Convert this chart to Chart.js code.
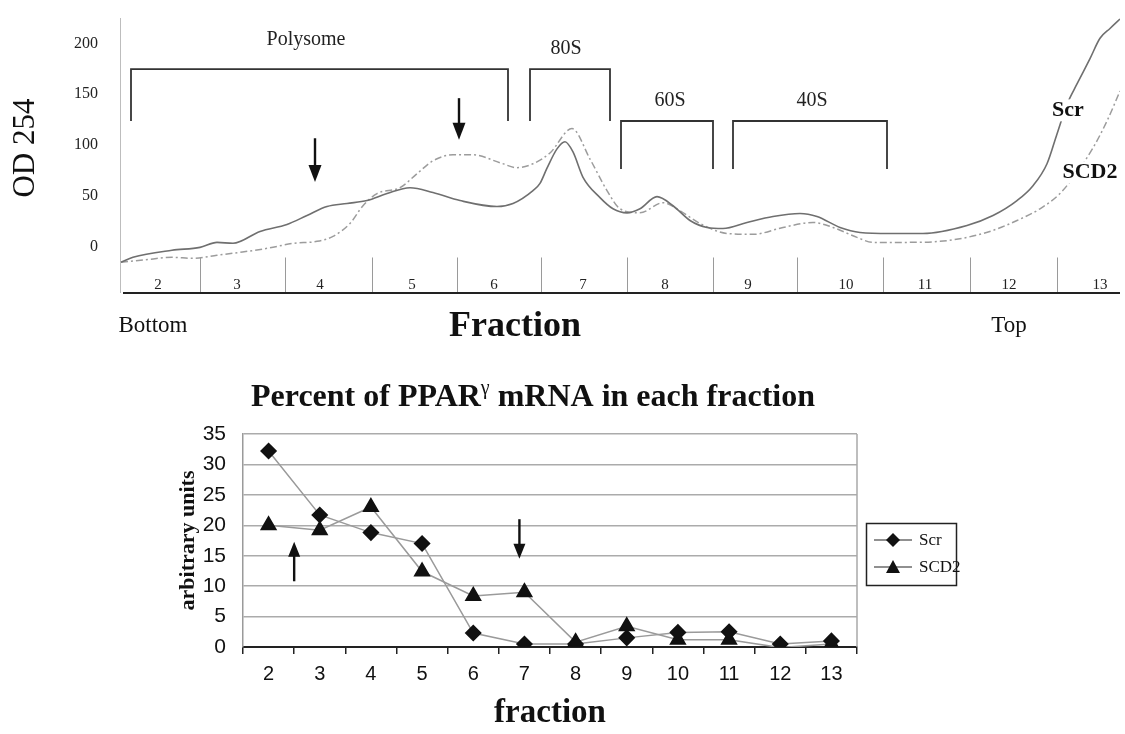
<!DOCTYPE html>
<html>
<head>
<meta charset="utf-8">
<script src="https://cdn.jsdelivr.net/npm/chart.js@4.4.1/dist/chart.umd.min.js"></script>
<style>
  html, body { margin: 0; padding: 0; background: #fff; }
  #wrap { position: relative; width: 1125px; height: 734px; }
  #topBox { position: absolute; left: 0; top: 0; width: 1125px; height: 345px; }
  #botBox { position: absolute; left: 0; top: 345px; width: 1125px; height: 389px; }
</style>
</head>
<body>
<div id="wrap">
  <div id="topBox"><canvas id="profileChart"></canvas></div>
  <div id="botBox"><canvas id="pctChart"></canvas></div>
</div>
<script>
// ---- profil de polysomes (OD 254 le long du gradient, 0 = fond, 100 = haut)
const scrDepth = [0.1, 1.3, 5.2, 8.0, 9.7, 11.3, 14.0, 16.7, 18.7, 20.7, 22.7, 24.7, 26.7, 29.0, 31.3, 34.0, 37.7, 39.3, 41.3, 42.0, 42.7, 43.7, 44.5, 45.3, 46.3, 48.0, 49.3, 50.7, 52.0, 53.7, 55.3, 57.0, 58.7, 60.3, 62.7, 65.3, 68.0, 69.7, 72.0, 74.0, 77.0, 80.3, 84.7, 87.3, 89.7, 91.3, 92.7, 93.7, 94.7, 95.7, 97.0, 98.0, 99.0, 100];
const scrOD = [-15.7, -10.8, -3.9, -1, 3.9, 3, 14.7, 21.6, 30.4, 39.2, 42.2, 45.1, 52, 57.8, 53, 45.1, 39.2, 42.2, 54.9, 62, 77, 96, 103, 93, 68, 48, 37, 33, 37, 49, 40, 25.5, 18.6, 17.6, 23.5, 29.4, 32.4, 29.4, 18.6, 13.7, 12.7, 12.7, 20.6, 30.4, 45.1, 59.8, 81.4, 110.8, 140, 160, 185, 205, 214.7, 224];
const scd2Depth = [0.1, 3.0, 5.2, 7.3, 9.7, 12.0, 14.7, 17.3, 19.7, 21.3, 23.0, 24.3, 25.7, 28.0, 29.7, 31.3, 33.3, 35.3, 38.0, 39.7, 41.3, 43.0, 45.2, 47.0, 48.7, 50.0, 52.0, 54.3, 56.0, 58.0, 60.7, 63.3, 66.3, 69.3, 71.3, 73.7, 75.3, 78.7, 82.0, 84.7, 87.3, 89.7, 92.0, 94.0, 95.3, 97.3, 98.7, 100];
const scd2OD = [-15.7, -12.7, -10.8, -11.8, -8.8, -5.9, -2, 2.9, 4.9, 9.8, 22.5, 40, 52, 57.8, 71.6, 84.3, 90.2, 90.2, 82.4, 77.5, 81.4, 92, 116, 86, 55, 37, 33, 43, 35, 22.5, 12.7, 11.8, 18.6, 23.5, 18.6, 8.8, 3.9, 3.9, 4.9, 8.8, 15.7, 25.5, 37, 52, 67.6, 97, 123.5, 153];
const odTicks = [0, 50, 100, 150, 200];

// séparations des fractions et numéros (positions dans le gradient)
const dividerPos = [8, 16.5, 25.2, 33.7, 42.1, 50.7, 59.3, 67.7, 76.3, 85, 93.7];
const fractionNames = ['2', '3', '4', '5', '6', '7', '8', '9', '10', '11', '12', '13'];
const fractionNamePos = [3.8, 11.7, 20.0, 29.2, 37.4, 46.3, 54.5, 62.8, 72.6, 80.5, 88.9, 98.0];

// crochets : nom, début, fin, haut, bas des pattes, position du texte
const brackets = [
  { name: 'Polysome', x0: 1.1, x1: 38.8, top: 174.7, foot: 123.5, tx: 18.6, ty: 204 },
  { name: '80S', x0: 41.0, x1: 49.0, top: 174.7, foot: 123.5, tx: 44.6, ty: 195 },
  { name: '60S', x0: 50.1, x1: 59.3, top: 123.5, foot: 76.2, tx: 55.0, ty: 143 },
  { name: '40S', x0: 61.3, x1: 76.7, top: 123.5, foot: 76.2, tx: 69.2, ty: 143 }
];
const profileArrows = [{ x: 19.5, from: 106.5, to: 63.5 }, { x: 33.9, from: 146, to: 105 }];

// ---- pourcentage d'ARNm PPARγ par fraction
const scrPct = [32.2, 21.7, 18.8, 17.0, 2.3, 0.5, 0.5, 1.5, 2.4, 2.5, 0.5, 1.0];
const scd2Pct = [20.0, 19.2, 23.0, 12.4, 8.4, 9.0, 0.8, 3.4, 1.2, 1.2, -0.1, 0.5];

const SERIF = '"Liberation Serif", "Times New Roman", serif';
const SANS = '"Liberation Sans", Arial, sans-serif';

function strokeLine(ctx, x0, y0, x1, y1) {
  ctx.beginPath(); ctx.moveTo(x0, y0); ctx.lineTo(x1, y1); ctx.stroke();
}
function drawArrow(ctx, x, yFrom, yTo, headLen, headW) {
  const dir = yTo > yFrom ? 1 : -1;
  ctx.lineWidth = 2.4;
  strokeLine(ctx, x, yFrom, x, yTo - dir * headLen * 0.6);
  ctx.beginPath();
  ctx.moveTo(x, yTo);
  ctx.lineTo(x - headW / 2, yTo - dir * headLen);
  ctx.lineTo(x + headW / 2, yTo - dir * headLen);
  ctx.closePath(); ctx.fill();
}

// Décor du profil : axe, séparations, crochets, flèches, textes
const profileDecor = {
  id: 'profileDecor',
  afterDraw(chart) {
    const { ctx, chartArea: a } = chart;
    const x = chart.scales.x, y = chart.scales.y;
    ctx.save();
    const yb = a.bottom + 1;
    // séparations
    ctx.strokeStyle = '#9a9a9a'; ctx.lineWidth = 1;
    dividerPos.forEach(d => {
      const px = Math.round(x.getPixelForValue(d)) + 0.5;
      strokeLine(ctx, px, y.getPixelForValue(-11), px, yb);
    });
    // axe horizontal
    ctx.strokeStyle = '#222'; ctx.lineWidth = 2;
    strokeLine(ctx, x.getPixelForValue(0.3), yb, a.right, yb);
    // numéros de fraction
    ctx.fillStyle = '#222';
    ctx.font = '15px ' + SERIF;
    ctx.textAlign = 'center'; ctx.textBaseline = 'middle';
    fractionNames.forEach((n, i) => ctx.fillText(n, x.getPixelForValue(fractionNamePos[i]), yb - 8));
    // crochets
    ctx.strokeStyle = '#333'; ctx.lineWidth = 1.8;
    ctx.font = '20px ' + SERIF;
    brackets.forEach(b => {
      const x0 = x.getPixelForValue(b.x0), x1 = x.getPixelForValue(b.x1);
      const yt = y.getPixelForValue(b.top), yf = y.getPixelForValue(b.foot);
      ctx.beginPath();
      ctx.moveTo(x0, yf); ctx.lineTo(x0, yt); ctx.lineTo(x1, yt); ctx.lineTo(x1, yf);
      ctx.stroke();
      ctx.fillText(b.name, x.getPixelForValue(b.tx), y.getPixelForValue(b.ty));
    });
    // flèches
    ctx.strokeStyle = '#111'; ctx.fillStyle = '#111';
    profileArrows.forEach(ar => drawArrow(ctx, x.getPixelForValue(ar.x), y.getPixelForValue(ar.from), y.getPixelForValue(ar.to), 17, 13));
    // étiquettes des courbes
    ctx.font = 'bold 22px ' + SERIF;
    [['Scr', 94.8, 134], ['SCD2', 97.0, 73]].forEach(([t, dx, dy]) => {
      const px = x.getPixelForValue(dx), py = y.getPixelForValue(dy);
      const w = ctx.measureText(t).width;
      ctx.fillStyle = '#fff'; ctx.fillRect(px - w / 2 - 2, py - 11, w + 4, 22);
      ctx.fillStyle = '#111'; ctx.fillText(t, px, py);
    });
    // textes sous l'axe
    ctx.font = '23px ' + SERIF;
    ctx.fillText('Bottom', 153, 326);
    ctx.fillText('Top', 1009, 326);
    ctx.font = 'bold 36px ' + SERIF;
    ctx.fillText('Fraction', 515, 327);
    // titre de l'axe vertical
    ctx.translate(26, 148); ctx.rotate(-Math.PI / 2);
    ctx.font = '31px ' + SERIF;
    ctx.fillText('OD 254', 0, 0);
    ctx.restore();
  }
};

new Chart(document.getElementById('profileChart'), {
  type: 'line',
  data: {
    datasets: [{
      label: 'Scr',
      data: scrDepth.map((d, i) => ({ x: d, y: scrOD[i] })),
      borderColor: '#6f6f6f', borderWidth: 1.6, pointRadius: 0,
      cubicInterpolationMode: 'monotone'
    }, {
      label: 'SCD2',
      data: scd2Depth.map((d, i) => ({ x: d, y: scd2OD[i] })),
      borderColor: '#9c9c9c', borderWidth: 1.5, borderDash: [7, 3, 2, 3], pointRadius: 0,
      cubicInterpolationMode: 'monotone'
    }]
  },
  options: {
    responsive: true, maintainAspectRatio: false, animation: false,
    layout: { padding: { top: 18, right: 5, bottom: 53, left: 0 } },
    plugins: { legend: { display: false }, tooltip: { enabled: false } },
    scales: {
      x: { type: 'linear', min: 0, max: 100, display: false },
      y: {
        min: -45, max: 225,
        afterFit: s => { s.width = 120; s.paddingTop = 0; s.paddingBottom = 0; },
        afterBuildTicks: s => { s.ticks = odTicks.map(v => ({ value: v })); },
        grid: { display: false, drawTicks: false },
        border: { color: '#bdbdbd', width: 1 },
        ticks: { padding: 22, color: '#222', font: { family: SERIF, size: 16 } }
      }
    }
  },
  plugins: [profileDecor]
});

// Décor du graphique du bas : titre, légende, flèches, titres d'axes
const pctDecor = {
  id: 'pctDecor',
  afterDraw(chart) {
    const { ctx, chartArea: a } = chart;
    const x = chart.scales.x, y = chart.scales.y;
    ctx.save();
    // bord droit de la zone de tracé
    ctx.strokeStyle = '#a8a8a8'; ctx.lineWidth = 1.5;
    strokeLine(ctx, a.right, a.top, a.right, a.bottom);
    // titre avec exposant
    ctx.fillStyle = '#111'; ctx.textBaseline = 'alphabetic'; ctx.textAlign = 'left';
    const p1 = 'Percent of PPAR', p2 = '\u03B3', p3 = ' mRNA in each fraction';
    ctx.font = 'bold 32px ' + SERIF;
    const w1 = ctx.measureText(p1).width, w3 = ctx.measureText(p3).width;
    ctx.font = '20px ' + SERIF;
    const w2 = ctx.measureText(p2).width;
    let tx = 533 - (w1 + w2 + w3) / 2;
    const base = 61;
    ctx.font = 'bold 32px ' + SERIF; ctx.fillText(p1, tx, base); tx += w1;
    ctx.font = '20px ' + SERIF; ctx.fillText(p2, tx, base - 12); tx += w2;
    ctx.font = 'bold 32px ' + SERIF; ctx.fillText(p3, tx, base);
    // titre axe x
    ctx.textAlign = 'center'; ctx.textBaseline = 'middle';
    ctx.font = 'bold 33px ' + SERIF;
    ctx.fillText('fraction', 550, 368);
    // titre axe y
    ctx.save();
    ctx.translate(188, (a.top + a.bottom) / 2);
    ctx.rotate(-Math.PI / 2);
    ctx.font = 'bold 22px ' + SERIF;
    ctx.fillText('arbitrary units', 0, 0);
    ctx.restore();
    // flèches
    ctx.strokeStyle = '#111'; ctx.fillStyle = '#111';
    const mid23 = (x.getPixelForTick(0) + x.getPixelForTick(1)) / 2;
    drawArrow(ctx, mid23, y.getPixelForValue(10.8), y.getPixelForValue(17.3), 15, 12);
    drawArrow(ctx, x.getPixelForTick(5) - 5, y.getPixelForValue(21), y.getPixelForValue(14.5), 15, 12);
    // légende
    const lx = 866, ly = 178, lw = 90, lh = 62;
    ctx.strokeStyle = '#222'; ctx.lineWidth = 1.5;
    ctx.strokeRect(lx + 0.5, ly + 0.5, lw, lh);
    chart.data.datasets.forEach((ds, i) => {
      const cy = ly + 17 + i * 27;
      ctx.strokeStyle = '#222'; ctx.lineWidth = 1.2;
      strokeLine(ctx, lx + 8, cy, lx + 46, cy);
      ctx.fillStyle = '#111';
      ctx.beginPath();
      if (ds.pointStyle === 'rectRot') {
        ctx.moveTo(lx + 27, cy - 7); ctx.lineTo(lx + 34, cy); ctx.lineTo(lx + 27, cy + 7); ctx.lineTo(lx + 20, cy);
      } else {
        ctx.moveTo(lx + 27, cy - 7); ctx.lineTo(lx + 34, cy + 6); ctx.lineTo(lx + 20, cy + 6);
      }
      ctx.closePath(); ctx.fill();
      ctx.textAlign = 'left'; ctx.font = '17px ' + SERIF;
      ctx.fillText(ds.label, lx + 53, cy + 1);
    });
    ctx.restore();
  }
};

new Chart(document.getElementById('pctChart'), {
  type: 'line',
  data: {
    labels: fractionNames,
    datasets: [{
      label: 'Scr', data: scrPct,
      borderColor: '#9a9a9a', borderWidth: 1.5, tension: 0,
      pointStyle: 'rectRot', pointRadius: 7.5,
      pointBackgroundColor: '#111', pointBorderColor: '#111'
    }, {
      label: 'SCD2', data: scd2Pct,
      borderColor: '#9a9a9a', borderWidth: 1.5, tension: 0,
      pointStyle: 'triangle', pointRadius: 8.5,
      pointBackgroundColor: '#111', pointBorderColor: '#111'
    }]
  },
  options: {
    responsive: true, maintainAspectRatio: false, animation: false,
    layout: { padding: { top: 89, right: 268, bottom: 0, left: 0 } },
    plugins: { legend: { display: false }, tooltip: { enabled: false } },
    scales: {
      x: {
        offset: true,
        afterFit: s => { s.height = 87; },
        grid: { offset: true, drawOnChartArea: false, tickLength: 7, color: '#222', lineWidth: 1.5 },
        border: { color: '#222', width: 2 },
        ticks: { padding: 8, color: '#111', font: { family: SANS, size: 20 } }
      },
      y: {
        min: 0, max: 35,
        afterFit: s => { s.width = 243; },
        grid: { color: '#ababab', lineWidth: 1.5, drawTicks: false },
        border: { color: '#9a9a9a', width: 1.5 },
        ticks: { stepSize: 5, padding: 17, color: '#111', font: { family: SANS, size: 21 } }
      }
    }
  },
  plugins: [pctDecor]
});
</script>
</body>
</html>
